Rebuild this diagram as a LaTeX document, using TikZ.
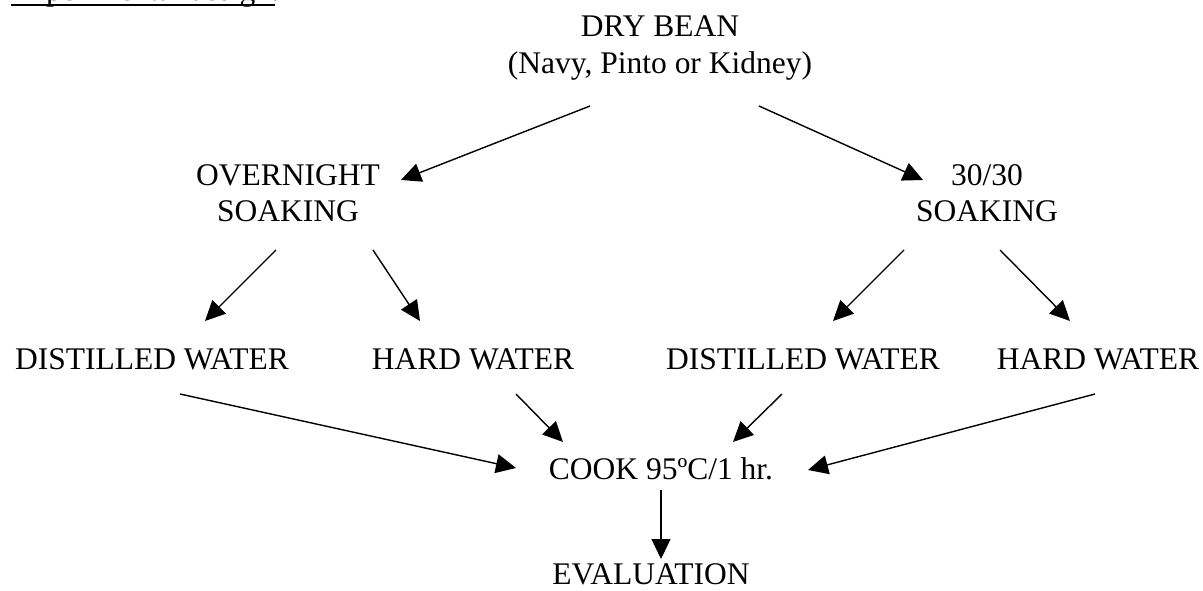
\documentclass[tikz,border=0pt]{standalone}
\usepackage{fontspec}
\setmainfont{Liberation Serif}
\usetikzlibrary{arrows.meta}
\begin{document}
\begin{tikzpicture}[x=1pt,y=-1pt,
  lbl/.style={font=\fontsize{31.5}{36.5}\selectfont, inner sep=0pt, anchor=base},
  mlbl/.style={font=\fontsize{31.5}{36.5}\selectfont, inner sep=0pt, anchor=north, align=center},
  arr/.style={line width=1.4pt, -{Triangle[length=20pt,width=19pt]}}]
\useasboundingbox (0,0) rectangle (1203,591);
% title (cut at top edge, as in the reference)
\node[lbl, anchor=base west] (exp) at (11,1) {Experimental design:};
\draw[line width=1.6pt] ([yshift=-4pt]exp.base west) -- ++(264,0);
% nodes
\node[mlbl] (dry) at (660,16) {DRY BEAN\\(Navy, Pinto or Kidney)};
\node[mlbl] (over) at (288,164) {OVERNIGHT\\SOAKING};
\node[mlbl] (thirty) at (987,164) {30/30\\SOAKING};
\node[lbl] (dw1) at (152,369) {DISTILLED WATER};
\node[lbl] (hw1) at (473,369) {HARD WATER};
\node[lbl] (dw2) at (803,369) {DISTILLED WATER};
\node[lbl] (hw2) at (1098,369) {HARD WATER};
\node[lbl] (cook) at (661,479) {COOK 95ºC/1 hr.};
\node[lbl] (eval) at (651,584) {EVALUATION};
% connector end points
\coordinate (dryL) at (590,106);  \coordinate (overT) at (401,180);
\coordinate (dryR) at (759,106);  \coordinate (thirtyT) at (923,180);
\coordinate (overL) at (276,250); \coordinate (dw1T) at (205,321);
\coordinate (overR) at (373,250); \coordinate (hw1T) at (420,321);
\coordinate (thirtyL) at (904,250); \coordinate (dw2T) at (833,321);
\coordinate (thirtyR) at (1000,250); \coordinate (hw2T) at (1070,321);
\coordinate (dw1B) at (180,394);  \coordinate (cookA) at (516,468);
\coordinate (hw1B) at (516,394);  \coordinate (cookB) at (563,442);
\coordinate (dw2B) at (782,394);  \coordinate (cookC) at (733,442);
\coordinate (hw2B) at (1095,394); \coordinate (cookD) at (808,470);
\coordinate (cookS) at (661,490); \coordinate (evalT) at (661,559);
% connectors
\draw[arr] (dryL) -- (overT);
\draw[arr] (dryR) -- (thirtyT);
\draw[arr] (overL) -- (dw1T);
\draw[arr] (overR) -- (hw1T);
\draw[arr] (thirtyL) -- (dw2T);
\draw[arr] (thirtyR) -- (hw2T);
\draw[arr] (dw1B) -- (cookA);
\draw[arr] (hw1B) -- (cookB);
\draw[arr] (dw2B) -- (cookC);
\draw[arr] (hw2B) -- (cookD);
\draw[arr] (cookS) -- (evalT);
\end{tikzpicture}
\end{document}
